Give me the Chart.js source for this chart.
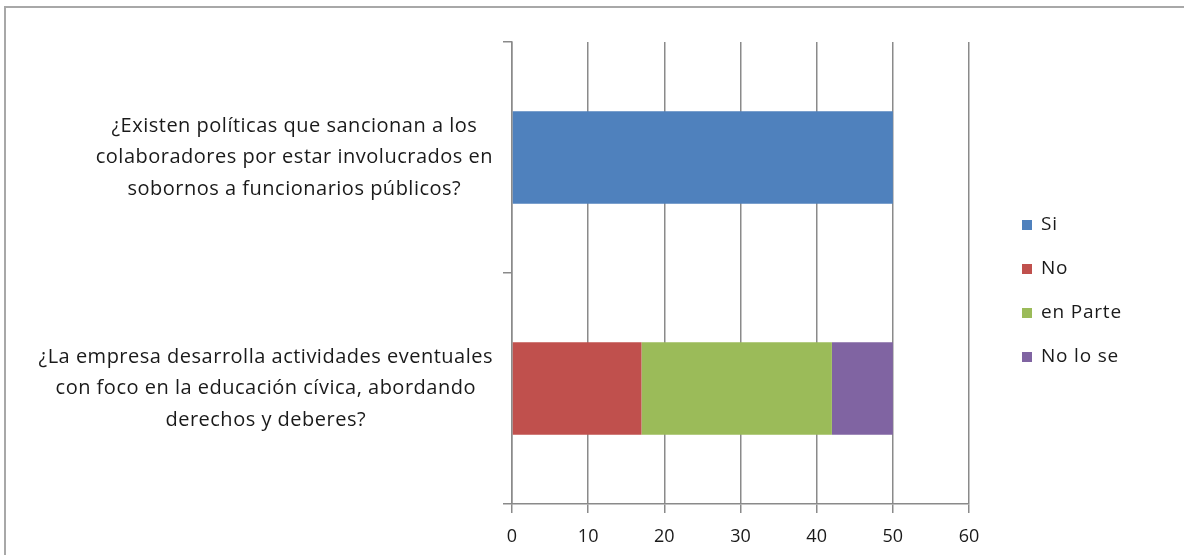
<!DOCTYPE html>
<html>
<head>
<meta charset="utf-8">
<script src="https://cdn.jsdelivr.net/npm/chart.js@4"></script>
<style>
html,body{margin:0;padding:0;background:#fff;}
#wrap{position:relative;width:1184px;height:555px;}
canvas{display:block;}
</style>
</head>
<body>
<div id="wrap"><canvas id="c" width="1184" height="555"></canvas></div>
<script>
const categories = [
  ["¿Existen políticas que sancionan a los", "colaboradores por estar involucrados en", "sobornos a funcionarios públicos?"],
  ["¿La empresa desarrolla actividades eventuales", "con foco en la educación cívica, abordando", "derechos y deberes?"]
];
const seriesNames = ["Si", "No", "en Parte", "No lo se"];
const siValues = [50, 0];
const noValues = [0, 17];
const enParteValues = [0, 25];
const noLoSeValues = [0, 8];
const xTicks = [0, 10, 20, 30, 40, 50, 60];
const colors = ["#4F81BD", "#C0504D", "#9BBB59", "#8064A2"];

const FONT = "'Open Sans', 'Noto Sans', sans-serif";
const TEXT = "#1a1a1a";
const GRID = "#8a8a8a";

const frame = {
  id: 'frame',
  beforeDraw(chart) {
    const ctx = chart.ctx;
    ctx.save();
    ctx.fillStyle = '#fff';
    ctx.fillRect(0, 0, chart.width, chart.height);
    ctx.strokeStyle = '#a8a8a8';
    ctx.lineWidth = 2;
    ctx.beginPath();
    ctx.moveTo(5, chart.height);
    ctx.lineTo(5, 7);
    ctx.lineTo(chart.width, 7);
    ctx.stroke();
    ctx.restore();
  }
};

const catLabels = {
  id: 'catLabels',
  afterDraw(chart) {
    const ctx = chart.ctx;
    const y = chart.scales.y;
    ctx.save();
    ctx.font = "20px " + FONT;
    if ('letterSpacing' in ctx) ctx.letterSpacing = '0.5px';
    ctx.fillStyle = TEXT;
    ctx.textAlign = 'center';
    ctx.textBaseline = 'middle';
    const lh = 31.5;
    const right = chart.chartArea.left - 19;
    chart.data.labels.forEach((lines, i) => {
      const cy = y.getPixelForValue(i);
      const maxW = Math.max(...lines.map(l => ctx.measureText(l).width));
      const cx = right - maxW / 2;
      lines.forEach((l, j) => {
        ctx.fillText(l, cx, cy + (j - (lines.length - 1) / 2) * lh);
      });
    });
    ctx.restore();
  }
};

const legendPlugin = {
  id: 'customLegend',
  afterDraw(chart) {
    const ctx = chart.ctx;
    ctx.save();
    ctx.font = "19px " + FONT;
    if ('letterSpacing' in ctx) ctx.letterSpacing = '0.8px';
    ctx.textBaseline = 'middle';
    ctx.textAlign = 'left';
    const x0 = 1022, y0 = 225, step = 44;
    chart.data.datasets.forEach((ds, i) => {
      const cy = y0 + i * step;
      ctx.fillStyle = ds.backgroundColor;
      ctx.fillRect(x0, cy - 5, 10, 10);
      ctx.fillStyle = TEXT;
      ctx.fillText(ds.label, x0 + 19, cy);
    });
    ctx.restore();
  }
};

new Chart(document.getElementById('c'), {
  type: 'bar',
  data: {
    labels: categories,
    datasets: [
      { label: seriesNames[0], data: siValues, backgroundColor: colors[0] },
      { label: seriesNames[1], data: noValues, backgroundColor: colors[1] },
      { label: seriesNames[2], data: enParteValues, backgroundColor: colors[2] },
      { label: seriesNames[3], data: noLoSeValues, backgroundColor: colors[3] }
    ]
  },
  options: {
    indexAxis: 'y',
    responsive: false,
    animation: false,
    devicePixelRatio: 1,
    categoryPercentage: 0.4,
    barPercentage: 1.0,
    layout: { padding: { left: 0, top: 42, right: 215, bottom: 0 } },
    plugins: {
      legend: { display: false },
      tooltip: { enabled: false }
    },
    scales: {
      x: {
        stacked: true,
        min: 0, max: 60,
        afterFit(s) { s.height = 51; },
        afterBuildTicks(s) { s.ticks = xTicks.map(v => ({ value: v })); },
        ticks: { color: TEXT, font: { family: FONT, size: 18 }, padding: 13 },
        grid: { color: GRID, lineWidth: 1.5, tickLength: 9, drawTicks: true },
        border: { color: GRID, width: 1.5 }
      },
      y: {
        stacked: true,
        afterFit(s) { s.width = 512; },
        ticks: { display: false },
        grid: { offset: true, drawOnChartArea: false, color: GRID, lineWidth: 1.5, tickLength: 9 },
        border: { color: GRID, width: 1.5 }
      }
    }
  },
  plugins: [frame, catLabels, legendPlugin]
});
</script>
</body>
</html>
